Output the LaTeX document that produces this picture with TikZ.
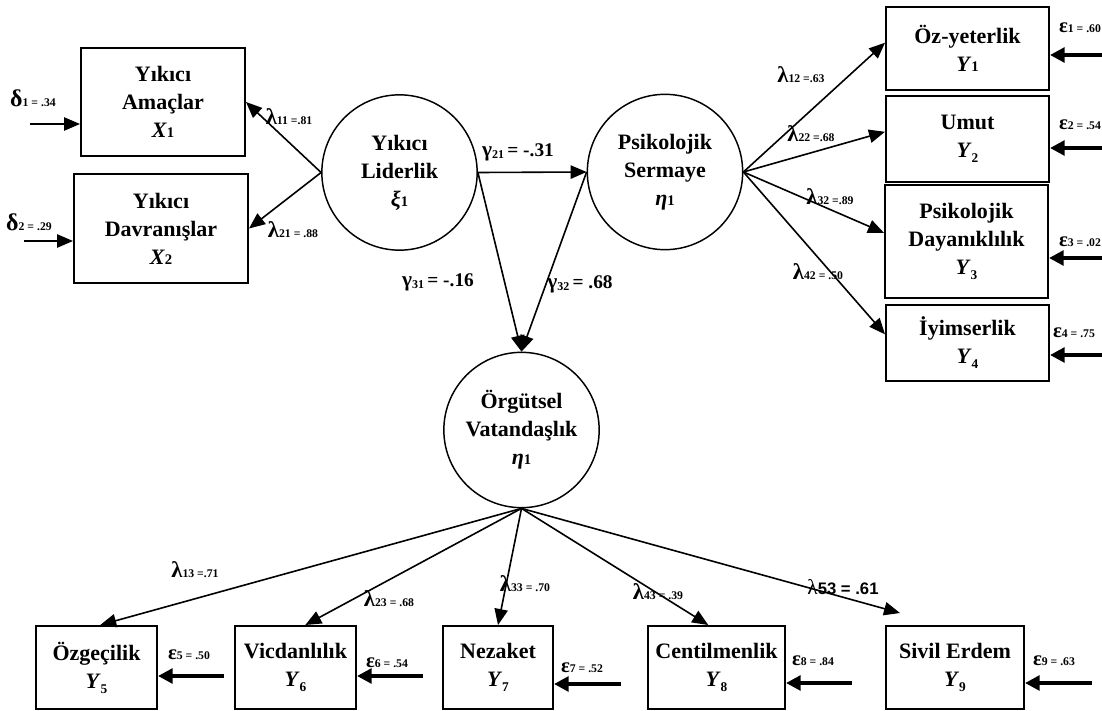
\documentclass[tikz,border=0pt]{standalone}
\usepackage{fontspec}
\setmainfont{Liberation Serif}
\newfontfamily\lsansfam{Liberation Sans}
\usetikzlibrary{arrows.meta,calc}
\newcommand\insub[2]{\textit{#1}{\fontsize{11}{11}\selectfont #2}}
\newcommand\lowsub[2]{\textit{#1}\raisebox{-0.5ex}{\fontsize{10}{10}\selectfont #2}}
\newcommand\smlab[3]{{\fontsize{#1}{#1}\selectfont #2}{\fontsize{8.8}{8.8}\selectfont #3}}
\newcommand\gamlab[2]{{\fontsize{16}{16}\selectfont γ}\raisebox{-0.45ex}{\fontsize{9}{9}\selectfont #1}{\fontsize{14.5}{14.5}\selectfont\,#2}}
\begin{document}
\begin{tikzpicture}[x=0.75pt,y=-0.75pt,
  box/.style={draw,line width=1.5pt,inner sep=0pt,align=center,
    font=\bfseries\fontsize{16.5}{21}\selectfont},
  lat/.style={draw,circle,line width=1.1pt,inner sep=0pt,align=center,
    minimum size=116.5pt,font=\bfseries\fontsize{16.5}{21}\selectfont},
  arr/.style={line width=1.2pt,-{Triangle[length=12pt,width=10pt]}},
  err/.style={line width=3pt,-{Triangle[length=11pt,width=11pt]}},
  lab/.style={inner sep=0pt,font=\bfseries}
]
\useasboundingbox (0,0) rectangle (1102,710);

% latent variables
\node[lat] (YL) at (399.5,172.5) {Yıkıcı\\Liderlik\\\insub{ξ}{1}};
\node[lat] (PS) at (665,172) {Psikolojik\\Sermaye\\\insub{η}{1}};
\node[lat] (OV) at (521.5,430) {Örgütsel\\Vatandaşlık\\\insub{η}{1}};

% left indicators
\node[box,minimum width=123pt,minimum height=81pt] (X1) at (163,102) {Yıkıcı\\Amaçlar\\\insub{X}{1}};
\node[box,minimum width=130.5pt,minimum height=81.75pt] (X2) at (161,228.5) {Yıkıcı\\Davranışlar\\\insub{X}{2}};

% right indicators
\node[box,minimum width=122.25pt,minimum height=62.25pt] (Y1) at (967.5,48.5) {Öz-yeterlik\\\insub{Y}{1}};
\node[box,minimum width=122.25pt,minimum height=64.5pt] (Y2) at (967.5,139) {Umut\\\lowsub{Y}{2}};
\node[box,minimum width=122.25pt,minimum height=84.75pt] (Y3) at (966.5,241.5) {Psikolojik\\Dayanıklılık\\\lowsub{Y}{3}};
\node[box,minimum width=122.25pt,minimum height=57pt] (Y4) at (967.5,343) {İyimserlik\\\lowsub{Y}{4}};

% bottom indicators
\node[box,minimum width=90.75pt,minimum height=62.25pt] (Y5) at (96.5,667.5) {Özgeçilik\\\lowsub{Y}{5}};
\node[box,minimum width=90.75pt,minimum height=62.25pt] (Y6) at (295.5,667.5) {Vicdanlılık\\\lowsub{Y}{6}};
\node[box,minimum width=82.5pt,minimum height=62.25pt] (Y7) at (498,667.5) {Nezaket\\\lowsub{Y}{7}};
\node[box,minimum width=102.75pt,minimum height=62.25pt] (Y8) at (716.5,667.5) {Centilmenlik\\\lowsub{Y}{8}};
\node[box,minimum width=103.5pt,minimum height=62.25pt] (Y9) at (955,667.5) {Sivil Erdem\\\lowsub{Y}{9}};

% structural paths
\draw[arr] (YL.west) -- (X1.east);
\draw[arr] (YL.west) -- (X2.east);
\draw[arr] (YL.east) -- (PS.west);
\draw[arr] (YL.east) -- (OV.north);
\draw[arr] (PS.west) -- (OV.north);

% right loadings
\draw[arr] (PS.east) -- (Y1.176);
\draw[arr] (PS.east) -- (Y2.175);
\draw[arr] (PS.east) -- (Y3.174);
\draw[arr] (PS.east) -- (Y4.174);

% bottom loadings
\coordinate (t9) at (900,613);
\draw[arr] (OV.south) -- (Y5.85);
\draw[arr] (OV.south) -- (Y6.77);
\draw[arr] (OV.south) -- (Y7.north);
\draw[arr] (OV.south) -- (Y8.101);
\draw[arr] (OV.south) -- (t9);

% delta arrows
\coordinate (d1s) at (30,124);
\coordinate (d2s) at (24,241);
\draw[arr] (d1s) -- (d1s -| X1.west);
\draw[arr] (d2s) -- (d2s -| X2.west);

% epsilon arrows right
\coordinate (e1s) at (1102,55);
\coordinate (e2s) at (1102,148);
\coordinate (e3s) at (1102,258);
\coordinate (e4s) at (1102,355);
\draw[err] (e1s) -- (e1s -| Y1.east);
\draw[err] (e2s) -- (e2s -| Y2.east);
\draw[err] (e3s) -- (e3s -| Y3.east);
\draw[err] (e4s) -- (e4s -| Y4.east);

% epsilon arrows bottom
\coordinate (e5s) at (224,676);
\coordinate (e6s) at (423,676);
\coordinate (e7s) at (621,684);
\coordinate (e8s) at (852,683);
\coordinate (e9s) at (1092,683);
\draw[err] (e5s) -- (e5s -| Y5.east);
\draw[err] (e6s) -- (e6s -| Y6.east);
\draw[err] (e7s) -- (e7s -| Y7.east);
\draw[err] (e8s) -- (e8s -| Y8.east);
\draw[err] (e9s) -- (e9s -| Y9.east);

% labels
\node[lab] (ld1) at (33,98) {\smlab{18}{δ}{1 = .34}};
\node[lab] (ld2) at (29,222) {\smlab{18}{δ}{2 = .29}};
\node[lab] (l11) at (289,117) {\smlab{17}{λ}{11 =.81}};
\node[lab] (l21) at (293,230) {\smlab{17}{λ}{21 = .88}};
\node[lab] (g21) at (518,152) {\gamlab{21}{= -.31}};
\node[lab] (g31) at (438,282) {\gamlab{31}{= -.16}};
\node[lab] (g32) at (580,284) {\gamlab{32}{= .68}};
\node[lab] (l12) at (801,75) {\smlab{17}{λ}{12 =.63}};
\node[lab] (l22) at (811,134) {\smlab{17}{λ}{22 =.68}};
\node[lab] (l32) at (830,197) {\smlab{17}{λ}{32 =.89}};
\node[lab] (l42) at (818,272) {\smlab{17}{λ}{42 = .50}};
\node[lab] (le1) at (1080,28) {\smlab{15.5}{ε}{1 = .60}};
\node[lab] (le2) at (1080,125) {\smlab{15.5}{ε}{2 = .54}};
\node[lab] (le3) at (1080,242) {\smlab{15.5}{ε}{3 = .02}};
\node[lab] (le4) at (1074,333) {\smlab{15.5}{ε}{4 = .75}};
\node[lab] (l13) at (195,570) {\smlab{17}{λ}{13 =.71}};
\node[lab] (l23) at (389,599) {\smlab{17}{λ}{23 = .68}};
\node[lab] (l33) at (525,584) {\smlab{17}{λ}{33 = .70}};
\node[lab] (l43) at (658,592) {\smlab{17}{λ}{43 = .39}};
\node[inner sep=0pt] (l53) at (843,587) {{\fontsize{16}{16}\selectfont λ}{\lsansfam\bfseries\fontsize{12.5}{12.5}\selectfont 53 = .61}};
\node[lab] (le5) at (189,655) {\smlab{15.5}{ε}{5 = .50}};
\node[lab] (le6) at (387,663) {\smlab{15.5}{ε}{6 = .54}};
\node[lab] (le7) at (582,668) {\smlab{15.5}{ε}{7 = .52}};
\node[lab] (le8) at (813,661) {\smlab{15.5}{ε}{8 = .84}};
\node[lab] (le9) at (1054,661) {\smlab{15.5}{ε}{9 = .63}};
\end{tikzpicture}
\end{document}
